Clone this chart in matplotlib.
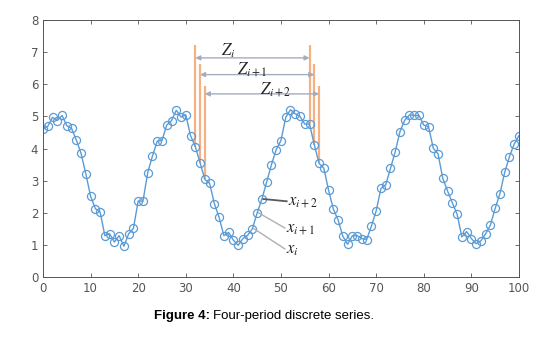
import numpy as np
import matplotlib.pyplot as plt

# series, x = 0..100
x = np.arange(0, 101)
vals = [4.60, 4.69, 4.97, 4.87, 5.03, 4.71, 4.63, 4.27, 3.85, 3.21,
        2.52, 2.13, 2.03, 1.29, 1.35, 1.09, 1.29, 0.96, 1.35, 1.52,
        2.37, 2.36, 3.25, 3.77, 4.23, 4.25, 4.73, 4.87, 5.19, 4.98,
        5.05, 4.40, 4.06, 3.56, 3.04, 2.92, 2.29, 1.86, 1.29, 1.39,
        1.15, 0.99, 1.20, 1.30, 1.51, 2.00, 2.43, 2.96, 3.50, 3.97,
        4.25, 4.97, 5.21, 5.08, 5.00, 4.76, 4.76, 4.12, 3.54, 3.39,
        2.70, 2.12, 1.78, 1.27, 1.02, 1.29, 1.29, 1.20, 1.17, 1.59,
        2.06, 2.76, 2.87, 3.38, 3.90, 4.53, 4.88, 5.05, 5.03, 5.03,
        4.73, 4.68, 4.01, 3.83, 3.07, 2.68, 2.31, 1.96, 1.25, 1.42,
        1.20, 1.04, 1.13, 1.35, 1.62, 2.14, 2.60, 3.26, 3.75, 4.14,
        4.40]

# period marks: start index, end index, height of the bars, arrow level
z_start = [32, 33, 34]
z_end = [56, 57, 58]
z_top = [7.21, 6.62, 5.96]
z_arrow = [6.82, 6.30, 5.70]
z_labels = [r'$Z_i$', r'$Z_{i+1}$', r'$Z_{i+2}$']
z_label_pos = [(39, 7.03), (43.9, 6.46), (48.8, 5.83)]

# x_i pointers
pt_idx = [46, 45, 44]
pt_labels = [r'$x_{i+2}$', r'$x_{i+1}$', r'$x_i$']
pt_text = [(51.4, 2.36), (51.0, 1.53), (51.0, 0.88)]
pt_colors = ['#595959', '#b0b0b0', '#b0b0b0']

plt.rcParams['mathtext.fontset'] = 'stix'

fig = plt.figure(figsize=(5.49, 3.38), dpi=100)
ax = fig.add_axes([0.0783, 0.180, 0.867, 0.761])

line_c = '#5b9bd5'
orange = '#f4b183'
ax.plot(x, vals, '-o', color=line_c, lw=1.0, ms=5.8, mfc='none', mew=0.9)

for s, e, top, ya in zip(z_start, z_end, z_top, z_arrow):
    ax.vlines([s, e], [vals[s], vals[e]], top, color=orange, lw=1.6, zorder=1)
    ax.annotate('', xy=(s, ya), xytext=(e, ya),
                arrowprops=dict(arrowstyle='<|-|>', color='#a3adbd', lw=1.0,
                                mutation_scale=7, shrinkA=0, shrinkB=0))

for lab, (tx, ty) in zip(z_labels, z_label_pos):
    ax.text(tx, ty, lab, fontsize=12, ha='center', va='center', color='#222222')

for i, lab, (tx, ty), c in zip(pt_idx, pt_labels, pt_text, pt_colors):
    ax.plot([i + 0.3, tx - 0.2], [vals[i], ty], color=c, lw=1.3 if c == '#595959' else 1.0)
    ax.text(tx, ty, lab, fontsize=12, ha='left', va='center', color='#222222')

ax.set_xlim(0, 100)
ax.set_ylim(0, 8)
ax.set_xticks(np.arange(0, 101, 10))
ax.set_yticks(np.arange(0, 9, 1))
ax.tick_params(direction='in', top=True, right=True, length=3, width=0.6,
               colors='#555555', labelsize=8.5, labelcolor='#555555')
for sp in ax.spines.values():
    sp.set_color('#555555')
    sp.set_linewidth(0.7)

# caption: bold part then normal part right after it
t1 = fig.text(0.281, 0.065, 'Figure 4:', fontsize=9.5, fontweight='bold',
              family='Liberation Sans', ha='left', va='center')
fig.canvas.draw()
bb = t1.get_window_extent(fig.canvas.get_renderer())
x2 = fig.transFigure.inverted().transform((bb.x1 + 3, 0))[0]
fig.text(x2, 0.065, 'Four-period discrete series.', fontsize=9.5,
         family='Liberation Sans', ha='left', va='center')

fig.savefig('out.png', dpi=100)
